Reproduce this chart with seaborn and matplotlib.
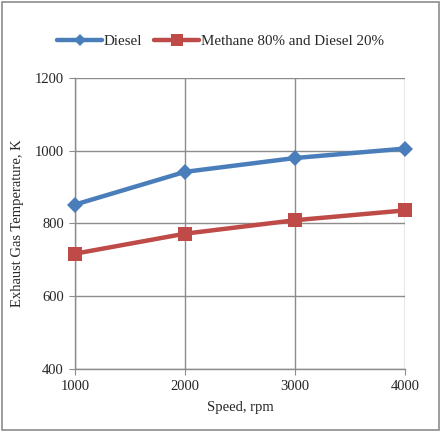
import matplotlib
matplotlib.use("Agg")
import matplotlib.pyplot as plt
import seaborn as sns
import pandas as pd
from matplotlib.patches import Rectangle
from matplotlib.lines import Line2D

speed = [1000, 2000, 3000, 4000]
diesel = [852, 942, 980, 1006]
methane = [717, 772, 809, 836]
series_names = ["Diesel", "Methane 80% and Diesel 20%"]

sns.set_style("white")
plt.rcParams['font.family'] = ['Liberation Serif', 'DejaVu Serif']

df = pd.DataFrame({
    "Speed": speed * 2,
    "Temp": diesel + methane,
    "Series": [series_names[0]] * 4 + [series_names[1]] * 4,
})

fig = plt.figure(figsize=(4.41, 4.32), dpi=100)
ax = fig.add_axes([75/441, 1 - 369/432, 330/441, 291/432])

palette = {series_names[0]: "#4a7ebb", series_names[1]: "#be4b48"}
markers = {series_names[0]: "D", series_names[1]: "s"}
sns.lineplot(data=df, x="Speed", y="Temp", hue="Series", style="Series",
             palette=palette, markers=markers, dashes=False, ax=ax,
             linewidth=3.2, markersize=10, markeredgewidth=0, legend=False)
for line in ax.get_lines():
    line.set_clip_on(False)
    line.set_zorder(5)
    if line.get_marker() == "D":
        line.set_markersize(8.5)
    else:
        line.set_markersize(10.5)

ax.set_xlim(1000, 4000)
ax.set_ylim(400, 1200)
ax.set_xticks(speed)
ax.set_yticks([400, 600, 800, 1000, 1200])
ax.grid(True, color="#8c8c8c", linewidth=1)
ax.set_axisbelow(True)
for s in ["top", "right"]:
    ax.spines[s].set_visible(False)
for s in ["left", "bottom"]:
    ax.spines[s].set_color("#8c8c8c")
    ax.spines[s].set_linewidth(1)
ax.tick_params(axis="both", which="both", length=4, color="#8c8c8c",
               labelsize=10.5, direction="out", pad=4)
ax.tick_params(axis="y", left=True)
ax.tick_params(axis="x", bottom=True)
ax.set_xlabel("Speed, rpm", fontsize=10.5, labelpad=6)
ax.set_ylabel("Exhaust Gas Temperature, K", fontsize=10.5, labelpad=8)

handles = [Line2D([], [], color=palette[n], marker=markers[n], linewidth=3.2,
                  markersize=6 if markers[n] == "D" else 8, markeredgewidth=0)
           for n in series_names]
fig.legend(handles, series_names, loc="center", bbox_to_anchor=(0.5, 1 - 41/432),
           ncol=2, frameon=False, fontsize=10.8, handlelength=3.0,
           handletextpad=0.1, columnspacing=0.8)

fig.patches.append(Rectangle((2/441, 2/432), 1 - 4/441, 1 - 4/432,
                             transform=fig.transFigure, fill=False,
                             edgecolor="#8c8c8c", linewidth=1.2))

fig.savefig("out.png", dpi=100)
